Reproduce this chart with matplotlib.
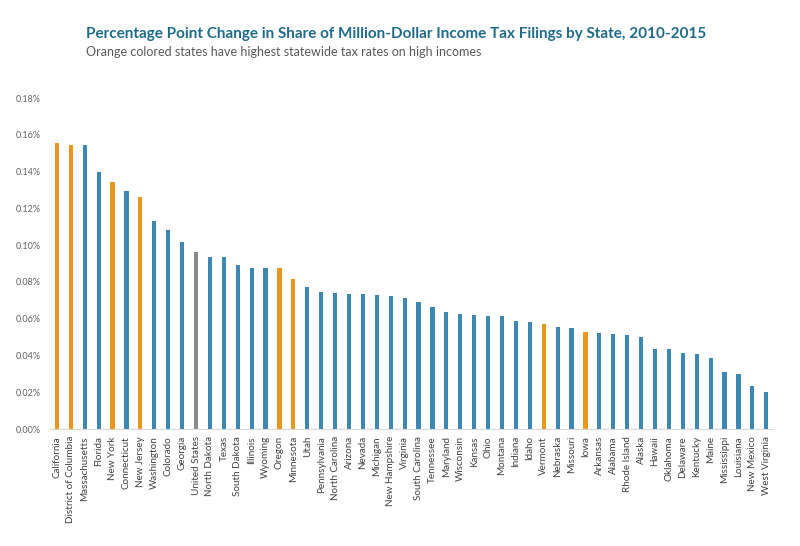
import matplotlib
matplotlib.use("Agg")
import matplotlib.pyplot as plt
from matplotlib.ticker import FuncFormatter

plt.rcParams['font.family'] = ['Lato', 'DejaVu Sans']

states = ["California", "District of Columbia", "Massachusetts", "Florida", "New York",
          "Connecticut", "New Jersey", "Washington", "Colorado", "Georgia",
          "United States", "North Dakota", "Texas", "South Dakota", "Illinois",
          "Wyoming", "Oregon", "Minnesota", "Utah", "Pennsylvania",
          "North Carolina", "Arizona", "Nevada", "Michigan", "New Hampshire",
          "Virginia", "South Carolina", "Tennessee", "Maryland", "Wisconsin",
          "Kansas", "Ohio", "Montana", "Indiana", "Idaho",
          "Vermont", "Nebraska", "Missouri", "Iowa", "Arkansas",
          "Alabama", "Rhode Island", "Alaska", "Hawaii", "Oklahoma",
          "Delaware", "Kentucky", "Maine", "Mississippi", "Louisiana",
          "New Mexico", "West Virginia"]

# percentage point change (in %)
change = [0.1557, 0.1544, 0.1542, 0.1397, 0.1346,
          0.1297, 0.1264, 0.1134, 0.1081, 0.1018,
          0.0965, 0.0938, 0.0938, 0.0894, 0.0878,
          0.0877, 0.0876, 0.0815, 0.0775, 0.0744,
          0.0740, 0.0736, 0.0735, 0.0729, 0.0724,
          0.0713, 0.0690, 0.0662, 0.0635, 0.0624,
          0.0619, 0.0617, 0.0613, 0.0586, 0.0580,
          0.0573, 0.0553, 0.0548, 0.0526, 0.0522,
          0.0515, 0.0510, 0.0502, 0.0437, 0.0434,
          0.0412, 0.0406, 0.0385, 0.0310, 0.0298,
          0.0232, 0.0200]

high_tax = ["California", "District of Columbia", "New York", "New Jersey",
            "Oregon", "Minnesota", "Vermont", "Iowa"]

blue = "#3d87b3"
orange = "#e8961c"
grey = "#8a8a8a"

colors = []
for s in states:
    if s == "United States":
        colors.append(grey)
    elif s in high_tax:
        colors.append(orange)
    else:
        colors.append(blue)

fig = plt.figure(figsize=(8, 5.46), dpi=100)
ax = fig.add_axes([0.0625, 0.214, 0.904, 0.6065])

x = range(len(states))
ax.bar(x, change, width=0.3, color=colors)

ax.set_xlim(-0.5, len(states) - 0.5)
ax.set_ylim(0, 0.18)
ax.set_yticks([0, 0.02, 0.04, 0.06, 0.08, 0.10, 0.12, 0.14, 0.16, 0.18])
ax.yaxis.set_major_formatter(FuncFormatter(lambda v, p: "%.2f%%" % v))
ax.set_xticks(list(x))
ax.set_xticklabels(states, rotation=90, fontsize=7.1, color="#404040")
ax.tick_params(axis='y', labelsize=6.5, colors="#606060", length=0, pad=7)
ax.tick_params(axis='x', length=0, pad=5)

for side in ["top", "right", "left"]:
    ax.spines[side].set_visible(False)
ax.spines["bottom"].set_color("#d9d9d9")
ax.spines["bottom"].set_linewidth(0.8)

fig.text(0.108, 0.938, "Percentage Point Change in Share of Million-Dollar Income Tax Filings by State, 2010-2015",
         fontsize=11, fontweight="bold", color="#1f6b8c", va="center")
fig.text(0.108, 0.904, "Orange colored states have highest statewide tax rates on high incomes",
         fontsize=9, color="#595959", va="center")

fig.savefig("out.png", dpi=100)
